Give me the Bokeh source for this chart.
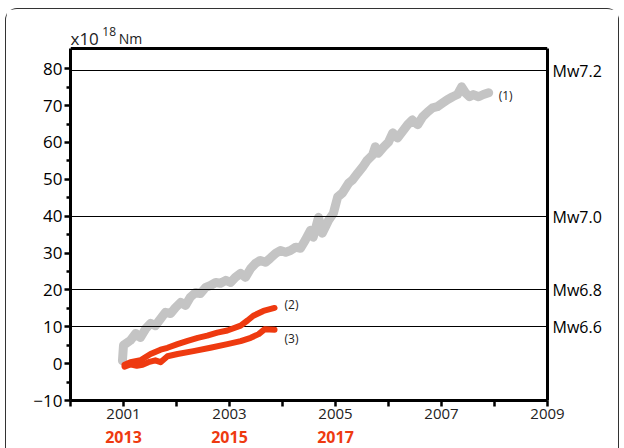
from bokeh.plotting import figure
from bokeh.models import LinearAxis, FixedTicker, Label, Range1d
from bokeh.embed import file_html
from bokeh.resources import INLINE

# ---------------- data ----------------
s1_year = [2000.98, 2001.00, 2001.13, 2001.23, 2001.32, 2001.42, 2001.51, 2001.60, 2001.70,
           2001.79, 2001.89, 2001.98, 2002.08, 2002.17, 2002.26, 2002.36, 2002.45, 2002.55,
           2002.64, 2002.74, 2002.83, 2002.93, 2003.02, 2003.11, 2003.21, 2003.30, 2003.40,
           2003.49, 2003.58, 2003.68, 2003.77, 2003.87, 2003.96, 2004.06, 2004.15, 2004.25,
           2004.34, 2004.43, 2004.53, 2004.58, 2004.68, 2004.75, 2004.87, 2004.96, 2005.04,
           2005.13, 2005.25, 2005.32, 2005.42, 2005.51, 2005.60, 2005.70, 2005.75, 2005.81,
           2005.91, 2006.00, 2006.08, 2006.17, 2006.26, 2006.36, 2006.45, 2006.55, 2006.64,
           2006.74, 2006.83, 2006.92, 2007.02, 2007.11, 2007.21, 2007.30, 2007.38, 2007.45,
           2007.53, 2007.60, 2007.70, 2007.79, 2007.89]
s1_moment = [0.8, 5.0, 6.3, 8.2, 7.1, 9.5, 10.9, 10.3, 12.2,
             13.9, 13.6, 15.2, 16.6, 15.8, 18.0, 19.3, 19.0, 20.7,
             21.2, 22.0, 21.8, 22.6, 22.0, 23.4, 24.5, 23.4, 25.8,
             27.2, 28.0, 27.5, 28.6, 29.9, 30.7, 30.2, 30.7, 31.6,
             31.3, 33.5, 36.2, 34.3, 39.7, 35.4, 38.9, 40.8, 45.2,
             46.3, 49.0, 49.8, 51.7, 53.3, 55.2, 56.6, 58.8, 57.1,
             58.8, 60.1, 62.6, 61.2, 62.9, 64.8, 66.1, 64.8, 66.9,
             68.3, 69.4, 69.7, 70.7, 71.6, 72.4, 73.0, 75.1, 73.5,
             72.4, 73.0, 72.4, 73.0, 73.5]

s2_year = [2001.02, 2001.13, 2001.32, 2001.51, 2001.70, 2001.83, 2002.02, 2002.21, 2002.40,
           2002.58, 2002.77, 2002.96, 2003.21, 2003.34, 2003.45, 2003.64, 2003.85]
s2_moment = [-0.3, 0.4, 0.9, 2.6, 3.8, 4.3, 5.3, 6.2, 7.0,
             7.6, 8.4, 9.0, 10.3, 11.7, 13.0, 14.3, 15.1]

s3_year = [2001.02, 2001.13, 2001.25, 2001.36, 2001.47, 2001.60, 2001.70, 2001.83, 2002.02,
           2002.32, 2002.64, 2002.96, 2003.21, 2003.40, 2003.55, 2003.66, 2003.85]
s3_moment = [-0.8, -0.2, -0.6, -0.3, 0.4, 0.9, 0.4, 2.0, 2.6,
             3.4, 4.3, 5.3, 6.1, 7.0, 8.0, 9.3, 9.2]

series_names = ["(1)", "(2)", "(3)"]

mw_labels = ["Mw7.2", "Mw7.0", "Mw6.8", "Mw6.6"]
mw_moment = [79.4, 39.8, 20.0, 10.0]

y_ticks = [-10, 0, 10, 20, 30, 40, 50, 60, 70, 80]
y_tick_labels = ["\u221210", "0", "10", "20", "30", "40", "50", "60", "70", "80"]
x_label_years = [2001, 2003, 2005, 2007, 2009]
x_minor_years = [2000, 2002, 2004, 2006, 2008]
alt_years = [2001, 2003, 2005]
alt_labels = ["2013", "2015", "2017"]

unit_parts = ["x10", "18", "Nm"]

# ---------------- styling ----------------
FONT = "Open Sans"
RED = "#ee3a10"
GREY = "#c4c4c4"
Y_MIN, Y_TOP = -10, 85.5       # visible box of the chart
X_MIN, X_MAX = 2000, 2009

p = figure(width=614, height=451, x_range=Range1d(X_MIN, X_MAX), y_range=Range1d(Y_MIN, 92.0),
           output_backend="svg", toolbar_location=None,
           x_axis_location=None, y_axis_location=None,
           min_border_left=64, min_border_right=73, min_border_top=15, min_border_bottom=60)
p.grid.visible = False
p.outline_line_color = None
p.background_fill_color = "white"
p.border_fill_color = "white"
p.styles = {"border-top": "1px solid #333", "border-left": "1px solid #333",
            "border-right": "1px solid #333", "border-bottom": "none",
            "border-radius": "12px 12px 0 0", "margin-left": "5px", "margin-top": "8px",
            "margin-bottom": "-16px"}

# left axis
yax = LinearAxis(ticker=FixedTicker(ticks=y_ticks, minor_ticks=[t + 5 for t in y_ticks[:-1]]),
                 major_label_overrides=dict(zip(y_ticks, y_tick_labels)), bounds=(Y_MIN, Y_TOP))
yax.axis_line_width = 3
yax.major_tick_line_width = 2.5
yax.major_tick_out = 6
yax.major_tick_in = 0
yax.minor_tick_line_width = 2.5
yax.minor_tick_out = 4
yax.minor_tick_in = 0
yax.major_label_text_font = FONT
yax.major_label_text_font_size = "17px"
yax.major_label_text_color = "black"
yax.major_label_standoff = 2
p.add_layout(yax, "left")

# bottom axis (years)
xax = LinearAxis(ticker=FixedTicker(ticks=x_label_years, minor_ticks=x_minor_years))
xax.axis_line_width = 3
xax.major_tick_line_width = 2.5
xax.major_tick_out = 6
xax.major_tick_in = 0
xax.minor_tick_line_width = 2.5
xax.minor_tick_out = 6
xax.minor_tick_in = 0
xax.major_label_text_font = FONT
xax.major_label_text_font_size = "15px"
xax.major_label_text_color = "#222"
xax.major_label_standoff = 2
p.add_layout(xax, "below")

# second bottom axis (red years)
xax2 = LinearAxis(ticker=FixedTicker(ticks=alt_years),
                  major_label_overrides=dict(zip(alt_years, alt_labels)))
xax2.axis_line_color = None
xax2.major_tick_line_color = None
xax2.minor_tick_line_color = None
xax2.major_tick_out = 0
xax2.major_tick_in = 0
xax2.major_label_standoff = 9
xax2.major_label_text_font = FONT
xax2.major_label_text_font_size = "16px"
xax2.major_label_text_font_style = "bold"
xax2.major_label_text_color = RED
p.add_layout(xax2, "below")

# right axis (Mw)
rax = LinearAxis(ticker=FixedTicker(ticks=mw_moment),
                 major_label_overrides=dict(zip(mw_moment, mw_labels)), bounds=(Y_MIN, Y_TOP))
rax.axis_line_width = 3
rax.major_tick_line_color = None
rax.minor_tick_line_color = None
rax.major_tick_out = 0
rax.major_tick_in = 0
rax.major_label_standoff = 5
rax.major_label_text_font = FONT
rax.major_label_text_font_size = "16px"
rax.major_label_text_color = "black"
p.add_layout(rax, "right")

# top edge of the box
p.hspan(y=[Y_TOP], line_color="black", line_width=3)

# series
p.line(s1_year, s1_moment, line_color=GREY, line_width=9, line_cap="round", line_join="round")
p.hspan(y=mw_moment, line_color="black", line_width=1.2)
p.line(s2_year, s2_moment, line_color=RED, line_width=6, line_cap="round", line_join="round")
p.line(s3_year, s3_moment, line_color=RED, line_width=6, line_cap="round", line_join="round")

# series labels
ends = [(s1_year[-1], s1_moment[-1], -0.8), (s2_year[-1], s2_moment[-1], 1.0),
        (s3_year[-1], s3_moment[-1], -2.4)]
for name, (ex, ey, dy) in zip(series_names, ends):
    p.add_layout(Label(x=ex, y=ey + dy, x_offset=10, text=name, text_baseline="middle",
                       text_font=FONT, text_font_size="12px", text_color="#222"))

# unit label above the box
unit_pos = [(X_MIN, 88.3, "17px"), (X_MIN + 0.60, 90.0, "12px"), (X_MIN + 0.91, 88.3, "14px")]
for txt, (ux, uy, fs) in zip(unit_parts, unit_pos):
    p.add_layout(Label(x=ux, y=uy, text=txt, text_font=FONT, text_font_size=fs,
                       text_baseline="alphabetic", text_color="#222"))

open("out.html", "w").write(file_html(p, INLINE))
